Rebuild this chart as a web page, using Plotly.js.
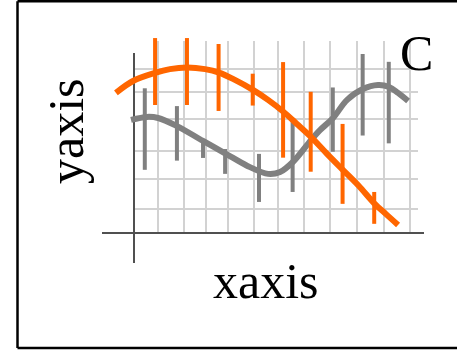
<!DOCTYPE html>
<html>
<head>
<meta charset="utf-8">
<script src="https://cdn.plot.ly/plotly-3.0.1.min.js"></script>
<style>html,body{margin:0;padding:0;background:#fff;}#chart{width:457px;height:354px;}</style>
</head>
<body>
<div id="chart"></div>
<script>
// ---- data ----
const orangeLineX = [-0.72, -0.04, 0.84, 1.43, 2.11, 2.83, 3.39, 4.02, 4.74, 5.34, 5.94, 6.49, 7.05, 7.69, 8.33, 8.96, 9.56, 10.04, 10.52];
const orangeLineY = [5.19, 5.63, 5.93, 6.07, 6.13, 6.07, 5.94, 5.67, 5.30, 4.93, 4.50, 4.04, 3.56, 2.93, 2.33, 1.74, 1.11, 0.70, 0.30];
const grayLineX = [-0.12, 0.52, 0.96, 1.71, 2.75, 3.82, 4.62, 5.34, 5.82, 6.33, 7.05, 7.41, 7.93, 8.49, 9.12, 9.72, 10.16, 10.52, 10.92];
const grayLineY = [4.19, 4.30, 4.26, 3.96, 3.41, 2.85, 2.44, 2.19, 2.26, 2.63, 3.44, 3.81, 4.26, 4.93, 5.33, 5.48, 5.41, 5.19, 4.89];

const orangePtsX = [0.84, 2.11, 3.37, 4.73, 5.94, 7.04, 8.31, 9.57];
const orangePtsY = [5.98, 5.98, 5.76, 5.31, 4.56, 3.75, 2.56, 0.93];
const orangeErr  = [1.24, 1.24, 1.24, 0.59, 1.77, 1.48, 1.48, 0.59];

const grayPtsX = [0.43, 1.71, 2.75, 3.63, 4.98, 6.32, 7.92, 9.11, 10.15];
const grayPtsY = [3.85, 3.69, 3.13, 2.65, 2.04, 2.89, 4.20, 5.12, 4.83];
const grayErr  = [1.51, 1.01, 0.35, 0.46, 0.89, 1.37, 1.19, 1.51, 1.51];

const xGrid = [0.96, 1.99, 2.87, 3.75, 4.78, 5.74, 6.77, 7.81, 8.88, 9.96, 11.0];
const yGrid = [0.89, 2.0, 3.05, 4.22, 5.22, 6.07];

const xTitle = 'xaxis';
const yTitle = 'yaxis';
const panelLabel = 'C';

// ---- geometry helpers (layout only) ----
// three stacked subplots share one data scale: grid (x/y), axis lines (x2/y2), data (x3/y3)
const W = 457, H = 354, SX = 25.1, X0 = 134, SY = 27, Y0 = 233;
function xAx(p0, p1, extra) {
  return Object.assign({domain: [p0 / W, p1 / W], range: [(p0 - X0) / SX, (p1 - X0) / SX],
    type: 'linear', showticklabels: false, ticks: '', showline: false, fixedrange: true}, extra);
}
function yAx(top, bottom, extra) {
  return Object.assign({domain: [(H - bottom) / H, (H - top) / H], range: [(Y0 - bottom) / SY, (Y0 - top) / SY],
    type: 'linear', showticklabels: false, ticks: '', showline: false, fixedrange: true}, extra);
}

const ORANGE = '#ff6600', GRAY = '#808080';
const FONT = 'Liberation Serif, Times New Roman, serif';

const traces = [
  {x: grayPtsX, y: grayPtsY, xaxis: 'x', yaxis: 'y', mode: 'markers', marker: {size: 1, opacity: 0},
   error_y: {type: 'data', array: grayErr, symmetric: true, width: 0, thickness: 4, color: GRAY}},
  {x: grayLineX, y: grayLineY, xaxis: 'x2', yaxis: 'y2', mode: 'lines',
   line: {color: GRAY, width: 6, shape: 'spline', smoothing: 1}},
  {x: orangePtsX, y: orangePtsY, xaxis: 'x3', yaxis: 'y3', mode: 'markers', marker: {size: 1, opacity: 0},
   error_y: {type: 'data', array: orangeErr, symmetric: true, width: 0, thickness: 4, color: ORANGE}},
  {x: orangeLineX, y: orangeLineY, xaxis: 'x3', yaxis: 'y3', mode: 'lines',
   line: {color: ORANGE, width: 6, shape: 'spline', smoothing: 1}}
];

// open frame: left, top and bottom edges only (the right edge lies outside the picture)
const fL = 17.5 / W, fT = (H - 1.3) / H, fB = (H - 348) / H;
const frameLine = {color: '#000000', width: 2.5};

const layout = {
  width: W, height: H,
  margin: {l: 0, r: 0, t: 0, b: 0, pad: 0},
  paper_bgcolor: '#ffffff',
  plot_bgcolor: 'rgba(0,0,0,0)',
  showlegend: false,
  hovermode: false,
  // grid subplot
  xaxis: xAx(134, 418, {anchor: 'y', tickmode: 'array', tickvals: xGrid, showgrid: true, gridcolor: '#d2d2d2', gridwidth: 2, zeroline: false}),
  yaxis: yAx(41, 233, {anchor: 'x', tickmode: 'array', tickvals: yGrid, showgrid: true, gridcolor: '#d2d2d2', gridwidth: 2, zeroline: false}),
  // axis-line subplot
  xaxis2: xAx(102, 424, {anchor: 'y2', showgrid: false, zeroline: true, zerolinecolor: '#505050', zerolinewidth: 2}),
  yaxis2: yAx(53, 263, {anchor: 'x2', showgrid: false, zeroline: true, zerolinecolor: '#505050', zerolinewidth: 2}),
  // data subplot
  xaxis3: xAx(100, 445, {anchor: 'y3', showgrid: false, zeroline: false}),
  yaxis3: yAx(25, 255, {anchor: 'x3', showgrid: false, zeroline: false}),
  shapes: [
    {type: 'line', xref: 'paper', yref: 'paper', x0: fL, x1: fL, y0: fB, y1: fT, line: frameLine, layer: 'below'},
    {type: 'line', xref: 'paper', yref: 'paper', x0: fL, x1: 1.2, y0: fT, y1: fT, line: frameLine, layer: 'below'},
    {type: 'line', xref: 'paper', yref: 'paper', x0: fL, x1: 1.2, y0: fB, y1: fB, line: frameLine, layer: 'below'}
  ],
  annotations: [
    {text: xTitle, xref: 'paper', yref: 'paper', x: 266 / W, y: (H - 281) / H, xanchor: 'center', yanchor: 'middle',
     showarrow: false, font: {family: FONT, size: 50, color: '#000'}},
    {text: yTitle, xref: 'paper', yref: 'paper', x: 66 / W, y: (H - 131) / H, xanchor: 'center', yanchor: 'middle',
     textangle: -90, showarrow: false, font: {family: FONT, size: 50, color: '#000'}},
    {text: panelLabel, xref: 'paper', yref: 'paper', x: 416.7 / W, y: (H - 53) / H, xanchor: 'center', yanchor: 'middle',
     showarrow: false, font: {family: FONT, size: 50, color: '#000'}}
  ]
};

Plotly.newPlot('chart', traces, layout, {staticPlot: true, displayModeBar: false});
</script>
</body>
</html>
